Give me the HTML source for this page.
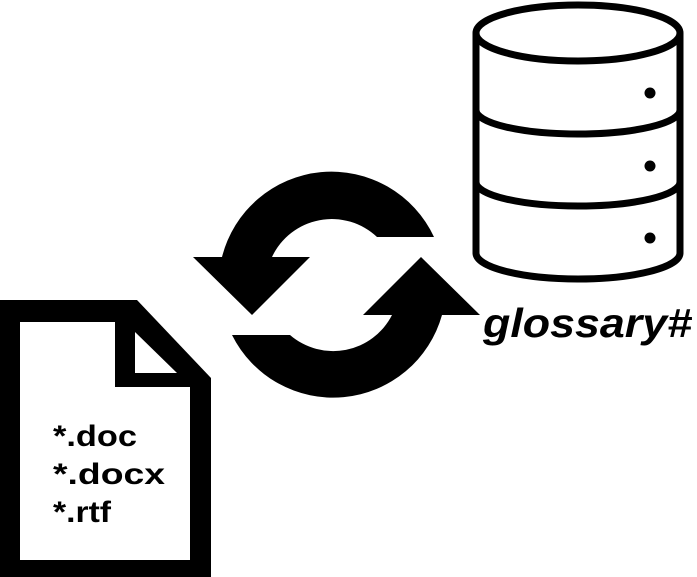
<!DOCTYPE html>
<html><head><meta charset="utf-8"><style>
html,body{margin:0;padding:0;background:#fff;width:697px;height:577px;overflow:hidden}
svg{display:block}
</style></head><body>
<svg width="697" height="577" viewBox="0 0 697 577" xmlns="http://www.w3.org/2000/svg">
<!-- document -->
<path d="M0,300 L137,300 L211,378 L211,577 L0,577 Z" fill="#000"/>
<path d="M20,322 L115,322 L115,387 L190,387 L190,560 L20,560 Z" fill="#fff"/>
<path d="M135,332 L177,373 L135,373 Z" fill="#fff"/>
<g font-family="Liberation Sans, sans-serif" font-weight="bold" font-size="30" fill="#000">
<text x="53" y="446" textLength="84" lengthAdjust="spacingAndGlyphs">*.doc</text>
<text x="53" y="484" textLength="112" lengthAdjust="spacingAndGlyphs">*.docx</text>
<text x="53" y="522" textLength="58" lengthAdjust="spacingAndGlyphs">*.rtf</text>
</g>
<!-- cycle arrows -->
<path d="M434,237 A113,113 0 0 0 222,257 L272,257 A66,66 0 0 1 377,237 Z" fill="#000"/>
<path d="M193,257 L310,257 L252,315 Z" fill="#000"/>
<path d="M232,335 A113,113 0 0 0 442,315 L392,315 A66,66 0 0 1 290,335 Z" fill="#000"/>
<path d="M363,315 L480,315 L421,257 Z" fill="#000"/>
<!-- database -->
<g fill="none" stroke="#000" stroke-width="7">
<ellipse cx="578" cy="33" rx="102" ry="28"/>
<path d="M476,33 L476,253 A102,26 0 0 0 680,253 L680,33"/>
<path d="M476,110 A102,24 0 0 0 680,110"/>
<path d="M476,182 A102,24 0 0 0 680,182"/>
</g>
<circle cx="650" cy="93" r="5.5" fill="#000"/>
<circle cx="650" cy="166" r="5.5" fill="#000"/>
<circle cx="650" cy="238" r="5.5" fill="#000"/>
<text x="483" y="337" font-family="Liberation Sans, sans-serif" font-weight="bold" font-style="italic" font-size="41" textLength="209" lengthAdjust="spacingAndGlyphs" fill="#000">glossary#</text>
</svg>
</body></html>
